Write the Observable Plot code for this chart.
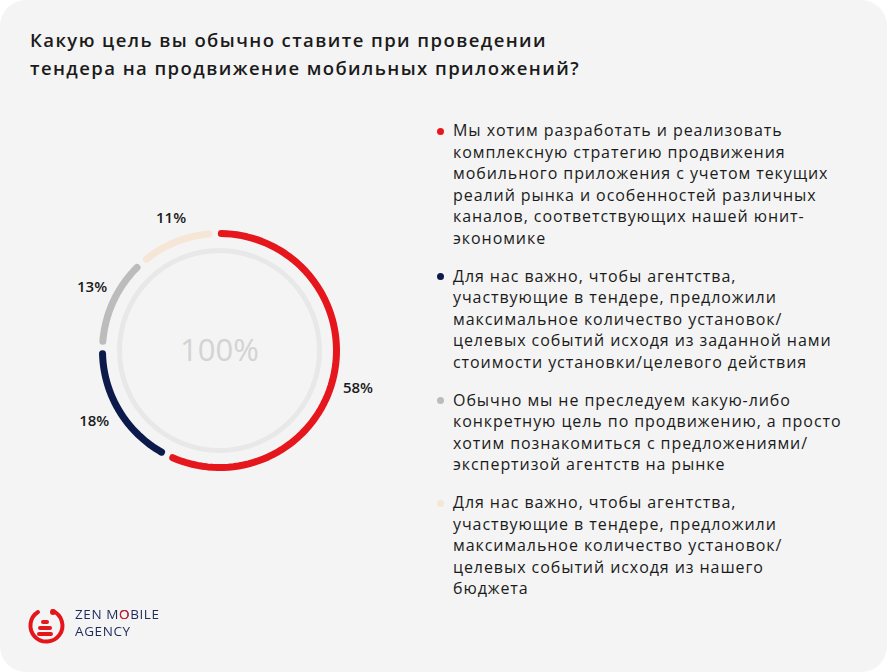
<!DOCTYPE html>
<html>
<head>
<meta charset="utf-8">
<script src="https://cdn.jsdelivr.net/npm/d3@7"></script>
<script src="https://cdn.jsdelivr.net/npm/@observablehq/plot@0.6"></script>
<style>
  html, body { margin: 0; padding: 0; background: #ffffff; }
  #card {
    position: relative; width: 887px; height: 672px; background: #f4f4f4;
    border-radius: 26px; overflow: hidden;
    font-family: "Open Sans", sans-serif; color: #1b1b1b;
  }
  #title {
    position: absolute; left: 30px; top: 26px; font-size: 18.5px; line-height: 28px;
    font-weight: 600; letter-spacing: 1.42px; white-space: nowrap;
  }
  #donut { position: absolute; left: 49px; top: 180px; }
  #legend { position: absolute; left: 453px; top: 120px; }
  .item { position: relative; font-size: 16px; line-height: 21.5px; margin-bottom: 16.5px; letter-spacing: 0.93px; white-space: nowrap; }
  .dot { position: absolute; left: -16.5px; top: 7.5px; width: 7px; height: 7px; border-radius: 50%; }
  #logo { position: absolute; left: 26px; top: 604px; }
  #logotext {
    position: absolute; left: 75px; top: 606px; font-size: 13.5px; line-height: 17px; font-weight: 500;
    letter-spacing: 0.6px; white-space: nowrap; color: transparent;
    -webkit-background-clip: text; background-clip: text;
    background-image: linear-gradient(#e4161c, #e4161c), linear-gradient(#1d2a5c, #1d2a5c);
    background-repeat: no-repeat, no-repeat;
    background-size: 0 0, 100% 100%;
  }
</style>
</head>
<body>
<div id="card">
  <div id="title"></div>
  <div id="donut"></div>
  <div id="legend"></div>
  <svg id="logo" width="44" height="44" viewBox="0 0 44 44">
    <path d="M27 7 A16 16 0 1 1 12 8" fill="none" stroke="#e4161c" stroke-width="4" stroke-linecap="round"/>
    <circle cx="27" cy="8" r="3" fill="#e4161c"/>
    <rect x="15" y="16" width="8" height="4" rx="2" fill="#e4161c"/>
    <rect x="12" y="22" width="14" height="4" rx="2" fill="#e4161c"/>
    <rect x="11" y="28" width="16" height="4" rx="2" fill="#e4161c"/>
  </svg>
  <div id="logotext">ZEN MOBILE<br>AGENCY</div>
</div>
<script>
// ---- data ----
const titleLines = [
  "Какую цель вы обычно ставите при проведении",
  "тендера на продвижение мобильных приложений?"
];
const categories = [
  ["Мы хотим разработать и реализовать", "комплексную стратегию продвижения", "мобильного приложения с учетом текущих", "реалий рынка и особенностей различных", "каналов, соответствующих нашей юнит-", "экономике"],
  ["Для нас важно, чтобы агентства,", "участвующие в тендере, предложили", "максимальное количество установок/", "целевых событий исходя из заданной нами", "стоимости установки/целевого действия"],
  ["Обычно мы не преследуем какую-либо", "конкретную цель по продвижению, а просто", "хотим познакомиться с предложениями/", "экспертизой агентств на рынке"],
  ["Для нас важно, чтобы агентства,", "участвующие в тендере, предложили", "максимальное количество установок/", "целевых событий исходя из нашего", "бюджета"]
];
const values = [58, 18, 13, 11];
const colors = ["#e5161c", "#0c1a4b", "#bcbcbc", "#f5e6d5"];
const centerLabel = "100%";

// ---- layout constants ----
const R = 117, RLabel = 143, RInner = 100, rot = -0.006, trim = 0.0085;

document.getElementById("title").innerHTML = titleLines.join("<br>");

// logo word: paint the "O" red through a sized background layer clipped to the text
{
  const el = document.getElementById("logotext");
  const node = el.firstChild;
  const idx = node.data.indexOf("O");
  const rng = document.createRange();
  rng.setStart(node, idx); rng.setEnd(node, idx + 1);
  const r = rng.getBoundingClientRect(), p = el.getBoundingClientRect();
  el.style.backgroundSize = `${r.width - 0.6}px 17px, 100% 100%`;
  el.style.backgroundPosition = `${r.left - p.left}px 0px, 0 0`;
}

const legend = document.getElementById("legend");
categories.forEach((lines, i) => {
  const d = document.createElement("div");
  d.className = "item";
  d.innerHTML = `<span class="dot" style="background:${colors[i]}"></span>` + lines.join("<br>");
  legend.appendChild(d);
});

const total = d3.sum(values);
const segs = [];
let cum = 0;
values.forEach((v, i) => {
  segs.push({i, v, a0: cum / total, a1: (cum + v) / total});
  cum += v;
});
const arcPts = segs.flatMap(s => {
  const n = 80, a0 = s.a0 + trim + rot, a1 = s.a1 - trim + rot;
  return d3.range(n + 1).map(k => {
    const t = 2 * Math.PI * (a0 + (a1 - a0) * k / n);
    return {seg: s.i, x: R * Math.sin(t), y: R * Math.cos(t)};
  });
});
const labels = segs.map(s => {
  const t = 2 * Math.PI * ((s.a0 + s.a1) / 2);
  return {x: RLabel * Math.sin(t), y: RLabel * Math.cos(t), text: s.v + "%"};
});

const chart = Plot.plot({
  width: 340, height: 340, margin: 0,
  style: {background: "transparent", overflow: "visible"},
  x: {domain: [-170, 170], axis: null},
  y: {domain: [-170, 170], axis: null},
  color: {domain: d3.range(values.length), range: colors},
  marks: [
    Plot.dot([0], {x: () => 0, y: () => 0, r: RInner, stroke: "#e8e8e8", strokeWidth: 5, fill: "none"}),
    Plot.line(arcPts, {x: "x", y: "y", z: "seg", stroke: "seg", strokeWidth: 7, strokeLinecap: "round", curve: "linear"}),
    Plot.text(labels, {x: "x", y: "y", text: "text", fontSize: 15, fontWeight: 600, fill: "#1b1b1b", fontFamily: "Open Sans", textAnchor: "middle", dy: 2}),
    Plot.text([centerLabel], {x: () => 0, y: () => 0, text: d => d, fontSize: 31, fontWeight: 400, fill: "#d3d3d3", fontFamily: "Open Sans", textAnchor: "middle", dy: 1})
  ]
});
document.getElementById("donut").appendChild(chart);
</script>
</body>
</html>
